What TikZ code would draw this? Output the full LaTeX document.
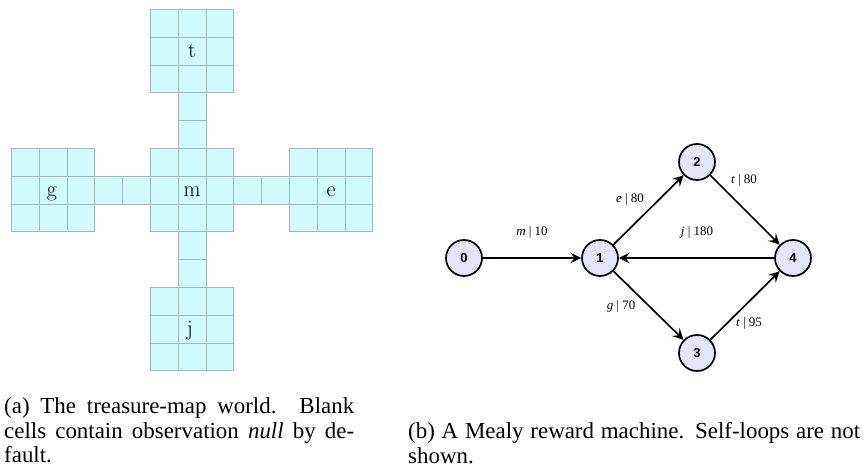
\documentclass[tikz,border=0pt]{standalone}
\usepackage{fontspec}
\newfontfamily\capfont{Liberation Serif}
\newfontfamily\statefont{Liberation Sans}
\usetikzlibrary{arrows.meta}
\definecolor{cellfill}{RGB}{208,250,252}
\definecolor{cellline}{RGB}{160,186,186}
\definecolor{statefill}{RGB}{228,228,250}

\begin{document}
\begin{tikzpicture}[x=1bp,y=-1bp,
  cell/.style={fill=cellfill,draw=cellline,line width=0.75bp},
  cellmark/.style={inner sep=0,anchor=base,font=\fontsize{22}{26}\selectfont},
  state/.style={circle,draw=black,fill=statefill,line width=1.7bp,minimum size=36bp,
    inner sep=0,font=\statefont\bfseries\fontsize{13}{13}\selectfont},
  trans/.style={line width=1.7bp,-{Stealth[length=11bp,width=11bp,inset=4.5bp]}},
  elabel/.style={font=\capfont\fontsize{13}{14}\selectfont,inner sep=0},
  captext/.style={font=\capfont\fontsize{23}{25}\selectfont,inner sep=0,
    anchor=north west,align=justify}]
\useasboundingbox (0,0) rectangle (864,468);

% ---- treasure map: five 3x3 rooms joined by corridors ----
\def\cs{27.8}
\foreach \bx/\by in {0/-5,-5/0,0/0,5/0,0/5}
  \foreach \i in {-1,0,1}
    \foreach \j in {-1,0,1}
      \draw[cell] ({192+(\bx+\i-0.5)*\cs},{190+(\by+\j-0.5)*\cs}) rectangle ++(\cs,\cs);
\foreach \cx/\cy in {0/-3,0/-2,0/2,0/3,-3/0,-2/0,2/0,3/0}
  \draw[cell] ({192+(\cx-0.5)*\cs},{190+(\cy-0.5)*\cs}) rectangle ++(\cs,\cs);

\node[cellmark] (lt) at (192,58) {t};
\node[cellmark] (lg) at (52,197) {g};
\node[cellmark] (lm) at (192,197) {m};
\node[cellmark] (le) at (331,197) {e};
\node[cellmark] (lj) at (190,336) {j};

% ---- Mealy reward machine ----
\node[state] (s0) at (464,258) {0};
\node[state] (s1) at (600,258) {1};
\node[state] (s2) at (697,162) {2};
\node[state] (s3) at (697,353) {3};
\node[state] (s4) at (793,258) {4};

\draw[trans] (s0) -- (s1);
\draw[trans] (s1) -- (s2);
\draw[trans] (s2) -- (s4);
\draw[trans] (s4) -- (s1);
\draw[trans] (s1) -- (s3);
\draw[trans] (s3) -- (s4);

\node[elabel] (l01) at (532,232) {\textit{m} | 10};
\node[elabel] (l12) at (630,199) {\textit{e} | 80};
\node[elabel] (l24) at (744,180) {\textit{t} | 80};
\node[elabel] (l41) at (697,232) {\textit{j} | 180};
\node[elabel] (l13) at (621,306) {\textit{g} | 70};
\node[elabel] (l34) at (749,323) {\textit{t} | 95};

% ---- captions ----
\node[captext,text width=350bp] (capa) at (4,397)
  {\noindent(a) The treasure-map world. Blank\linebreak
   cells contain observation \textit{null} by de-\linebreak fault.};
\node[captext,text width=452bp] (capb) at (408,422)
  {\noindent(b) A Mealy reward machine. Self-loops are not\linebreak shown.};
\end{tikzpicture}
\end{document}
